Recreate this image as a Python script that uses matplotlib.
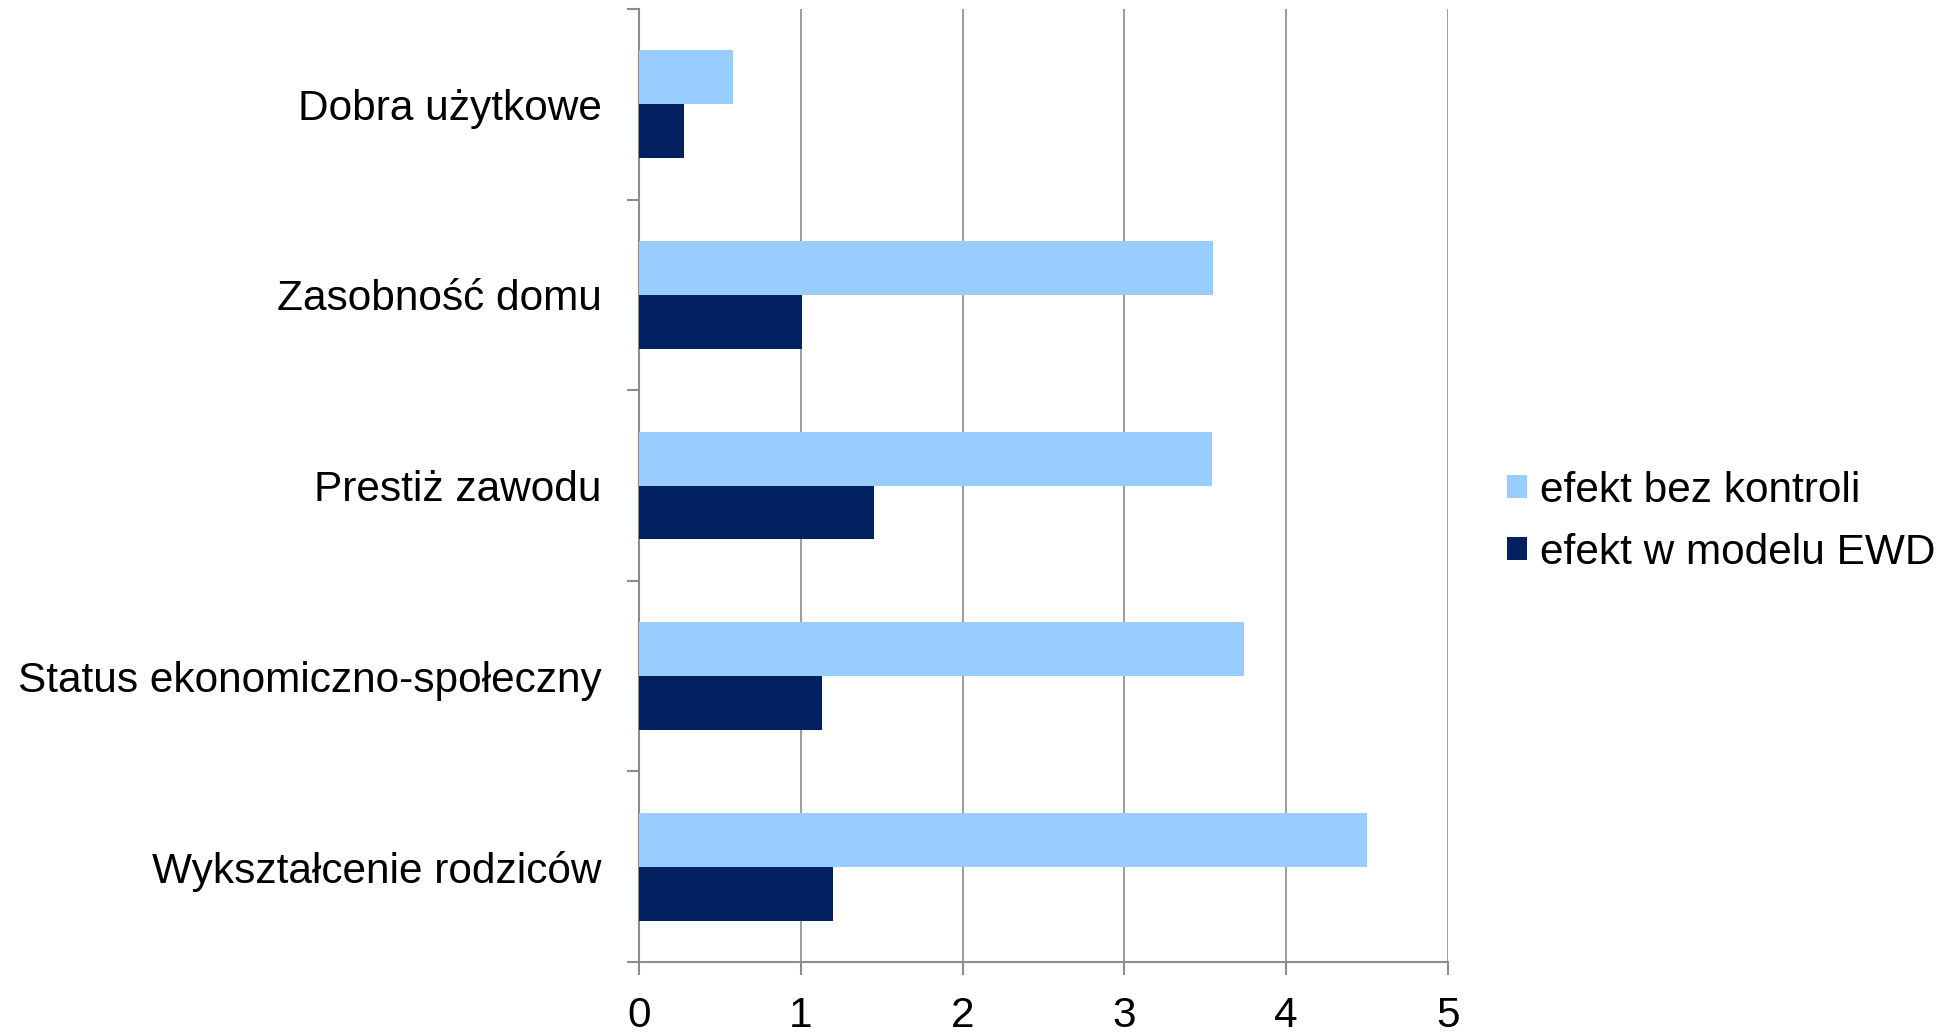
import numpy as np
import matplotlib
matplotlib.use("Agg")
import matplotlib.pyplot as plt

# categories listed bottom -> top
categories = ["Wykształcenie rodziców", "Status ekonomiczno-społeczny",
              "Prestiż zawodu", "Zasobność domu", "Dobra użytkowe"]
bez_kontroli = [4.50, 3.74, 3.54, 3.55, 0.58]
model_ewd = [1.20, 1.13, 1.45, 1.01, 0.28]
series_names = ["efekt bez kontroli", "efekt w modelu EWD"]
x_ticks = [0, 1, 2, 3, 4, 5]

light = "#99CCFF"
dark = "#002060"
grey = "#8C8C8C"
fs = 30.5

plt.rcParams['font.family'] = ['Liberation Sans', 'DejaVu Sans']

fig = plt.figure(figsize=(19.59, 10.33), dpi=100)
ax = fig.add_axes([0.3262, 0.0687, 0.4130, 0.9226])

y = np.arange(len(categories))
h = 0.283
ax.barh(y + h / 2, bez_kontroli, height=h, color=light, label=series_names[0], zorder=3)
ax.barh(y - h / 2, model_ewd, height=h, color=dark, label=series_names[1], zorder=3)

ax.set_xlim(0, 5)
ax.set_ylim(-0.5, len(categories) - 0.5)

ax.set_xticks(x_ticks)
ax.set_xticklabels([str(t) for t in x_ticks], fontsize=fs)
ax.tick_params(axis='x', length=9.4, width=1.5, color=grey, pad=15)

# boundary ticks without labels, labels on minor ticks at the centres
ax.set_yticks(np.arange(-0.5, len(categories), 1.0))
ax.set_yticklabels([])
ax.set_yticks(y, minor=True)
ax.set_yticklabels(categories, minor=True, fontsize=fs)
ax.tick_params(axis='y', which='major', length=8.6, width=1.5, color=grey)
ax.tick_params(axis='y', which='minor', length=0, pad=27)

ax.grid(axis='x', color=grey, linewidth=1.2, zorder=0)
for s in ['top', 'right']:
    ax.spines[s].set_visible(False)
for s in ['left', 'bottom']:
    ax.spines[s].set_color(grey)
    ax.spines[s].set_linewidth(1.5)

ax.legend(loc='center left', bbox_to_anchor=(0.7695, 0.495), bbox_transform=fig.transFigure,
          frameon=False, fontsize=fs, handlelength=0.47, handleheight=0.47,
          handletextpad=0.3, labelspacing=0.52, borderpad=0, borderaxespad=0)

fig.savefig("out.png", dpi=100, facecolor='white')
